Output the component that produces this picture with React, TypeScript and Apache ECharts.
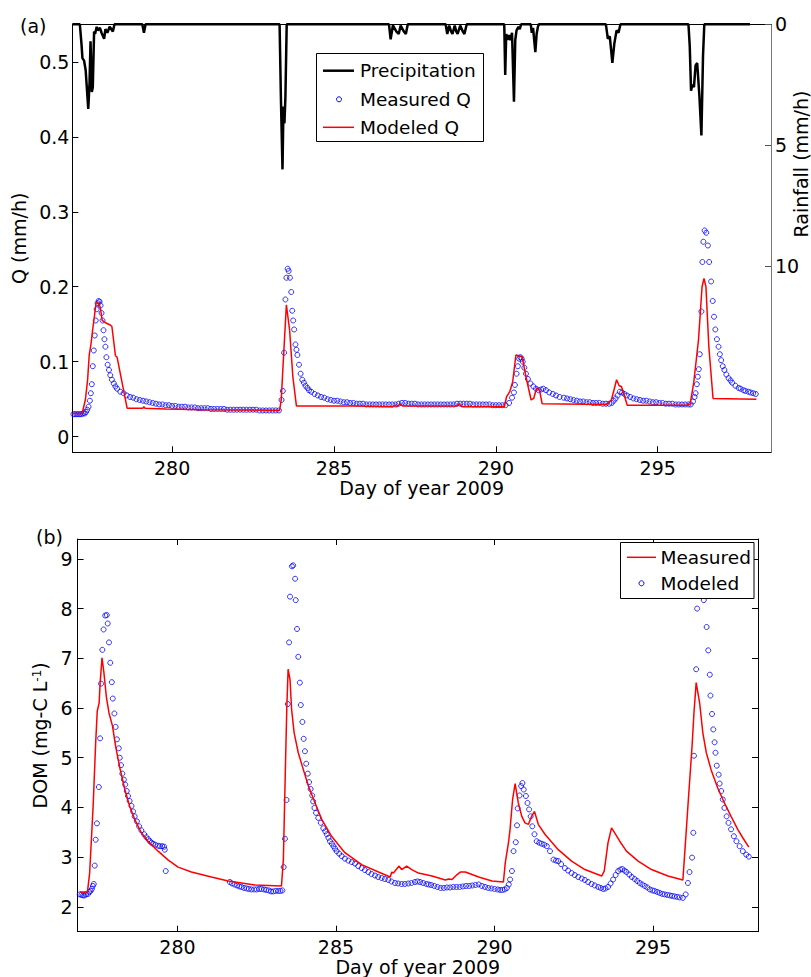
import React, { useEffect, useRef } from "react";
import * as echarts from "echarts";

// ---------- data (day of year 2009) ----------
const dayTicks = [280, 285, 290, 295];
const qTicks = [0, 0.1, 0.2, 0.3, 0.4, 0.5];
const rainTicks = [0, 5, 10];
const domTicks = [2, 3, 4, 5, 6, 7, 8, 9];

// Precipitation (mm/h)
const precipitation: [number, number][] = [
  [276.92, 0], [277.15, 0], [277.2, 0.8], [277.23, 1.4], [277.28, 1.5], [277.33, 1.9], [277.41, 3.5],
  [277.45, 2.4], [277.48, 0.7], [277.52, 2.8], [277.55, 2.6], [277.59, 0.3], [277.62, 0.4], [277.67, 0.1],
  [277.7, 0.25], [277.77, 0.15], [277.82, 0.35], [277.9, 0.6], [277.94, 0.2], [278.0, 0.35], [278.07, 0.1],
  [278.17, 0.3], [278.22, 0], [279.08, 0], [279.13, 0.35], [279.18, 0],
  [283.32, 0], [283.36, 3.0], [283.41, 6.0], [283.44, 3.4], [283.47, 4.1], [283.5, 3.0], [283.54, 0],
  [286.7, 0], [286.75, 0.62], [286.82, 0.05], [286.93, 0.3], [287.0, 0.4], [287.06, 0.05], [287.16, 0.3],
  [287.22, 0.4], [287.28, 0],
  [288.45, 0], [288.5, 0.4], [288.56, 0.05], [288.62, 0.3], [288.66, 0.4], [288.73, 0.05], [288.78, 0.3],
  [288.82, 0.4], [288.9, 0.05], [288.98, 0.3], [289.03, 0.4], [289.1, 0],
  [290.26, 0], [290.29, 2.1], [290.32, 0.4], [290.36, 0.65], [290.4, 0.45], [290.45, 0.65], [290.5, 0.35],
  [290.56, 3.2], [290.6, 0.65], [290.64, 0.25], [290.7, 0.1], [290.74, 0.2], [290.78, 0],
  [291.08, 0], [291.11, 0.35], [291.15, 0.15], [291.22, 1.15], [291.26, 0.4], [291.3, 0.1], [291.33, 0],
  [293.4, 0], [293.46, 0.6], [293.52, 0.5], [293.6, 1.6], [293.66, 0.8], [293.73, 0.25], [293.79, 0.35], [293.85, 0],
  [295.95, 0], [295.99, 0.9], [296.03, 2.75], [296.07, 2.5], [296.12, 2.6], [296.17, 1.7], [296.22, 1.6],
  [296.29, 3.0], [296.35, 4.6], [296.4, 1.3], [296.44, 0], [297.85, 0],
];

// Measured Q (mm/h), circles
const measuredQ: [number, number][] = [
  [276.95, 0.030], [277.0, 0.030], [277.05, 0.030], [277.1, 0.030], [277.15, 0.030], [277.2, 0.030],
  [277.25, 0.031], [277.3, 0.031], [277.34, 0.033], [277.38, 0.036], [277.42, 0.040], [277.46, 0.048],
  [277.49, 0.058], [277.52, 0.070], [277.55, 0.094], [277.58, 0.115], [277.61, 0.135], [277.64, 0.155],
  [277.67, 0.170], [277.70, 0.178], [277.73, 0.181], [277.76, 0.180], [277.79, 0.175], [277.82, 0.165],
  [277.85, 0.155], [277.88, 0.142], [277.91, 0.130], [277.94, 0.120], [277.97, 0.106], [278.01, 0.096],
  [278.05, 0.089], [278.09, 0.082], [278.14, 0.076], [278.2, 0.071], [278.25, 0.067], [278.3, 0.064],
  [278.4, 0.060], [278.5, 0.058], [278.6, 0.055], [278.7, 0.053], [278.8, 0.052], [278.9, 0.050],
  [279.0, 0.049], [279.1, 0.048], [279.2, 0.047], [279.3, 0.046], [279.4, 0.045], [279.5, 0.044],
  [279.6, 0.043], [279.7, 0.043], [279.8, 0.042], [279.9, 0.042], [280.0, 0.041], [280.1, 0.041],
  [280.2, 0.040], [280.3, 0.040], [280.4, 0.040], [280.5, 0.039], [280.6, 0.039], [280.7, 0.039],
  [280.8, 0.038], [280.9, 0.038], [281.0, 0.038], [281.1, 0.038], [281.2, 0.037], [281.3, 0.037],
  [281.4, 0.037], [281.5, 0.037], [281.6, 0.037], [281.7, 0.036], [281.8, 0.036], [281.9, 0.036],
  [282.0, 0.036], [282.1, 0.036], [282.2, 0.036], [282.3, 0.036], [282.4, 0.036], [282.5, 0.036],
  [282.6, 0.036], [282.7, 0.035], [282.8, 0.035], [282.9, 0.035], [283.0, 0.035], [283.1, 0.035],
  [283.2, 0.035], [283.3, 0.035], [283.38, 0.049], [283.42, 0.061], [283.46, 0.112], [283.50, 0.183],
  [283.53, 0.212], [283.57, 0.224], [283.60, 0.221], [283.64, 0.212], [283.68, 0.193], [283.71, 0.168],
  [283.74, 0.155], [283.77, 0.143], [283.81, 0.123], [283.84, 0.116], [283.87, 0.109], [283.92, 0.096],
  [283.97, 0.084], [284.02, 0.076], [284.07, 0.072], [284.12, 0.068], [284.18, 0.065], [284.23, 0.062],
  [284.3, 0.060], [284.4, 0.057], [284.5, 0.055], [284.6, 0.053], [284.7, 0.052], [284.8, 0.050],
  [284.9, 0.049], [285.0, 0.048], [285.1, 0.048], [285.2, 0.047], [285.3, 0.046], [285.4, 0.046],
  [285.5, 0.045], [285.6, 0.045], [285.7, 0.044], [285.8, 0.044], [285.9, 0.044], [286.0, 0.043],
  [286.1, 0.043], [286.2, 0.043], [286.3, 0.043], [286.4, 0.043], [286.5, 0.043], [286.6, 0.043],
  [286.7, 0.043], [286.8, 0.043], [286.9, 0.043], [287.0, 0.044], [287.1, 0.045], [287.2, 0.045],
  [287.3, 0.044], [287.4, 0.044], [287.5, 0.044], [287.6, 0.043], [287.7, 0.043], [287.8, 0.043],
  [287.9, 0.043], [288.0, 0.043], [288.1, 0.043], [288.2, 0.043], [288.3, 0.043], [288.4, 0.043],
  [288.5, 0.043], [288.6, 0.043], [288.7, 0.043], [288.8, 0.044], [288.9, 0.044], [289.0, 0.044],
  [289.1, 0.044], [289.2, 0.044], [289.3, 0.043], [289.4, 0.043], [289.5, 0.043], [289.6, 0.043],
  [289.7, 0.043], [289.8, 0.043], [289.9, 0.042], [290.0, 0.042], [290.1, 0.042], [290.2, 0.042],
  [290.3, 0.042], [290.41, 0.045], [290.5, 0.052], [290.56, 0.059], [290.59, 0.069], [290.64, 0.084],
  [290.68, 0.094], [290.72, 0.104], [290.76, 0.106], [290.8, 0.104], [290.83, 0.100], [290.88, 0.092],
  [290.93, 0.084], [290.99, 0.077], [291.07, 0.071], [291.16, 0.067], [291.24, 0.064], [291.32, 0.062],
  [291.4, 0.063], [291.47, 0.064], [291.55, 0.062], [291.65, 0.059], [291.76, 0.057], [291.86, 0.055],
  [291.97, 0.053], [292.1, 0.052], [292.2, 0.051], [292.3, 0.050], [292.4, 0.049], [292.5, 0.048],
  [292.6, 0.047], [292.7, 0.047], [292.8, 0.046], [292.9, 0.046], [293.0, 0.045], [293.1, 0.045],
  [293.2, 0.045], [293.3, 0.044], [293.4, 0.044], [293.5, 0.044], [293.58, 0.045], [293.64, 0.048],
  [293.7, 0.051], [293.76, 0.055], [293.83, 0.060], [293.9, 0.059], [293.97, 0.057], [294.05, 0.055],
  [294.15, 0.053], [294.25, 0.051], [294.35, 0.050], [294.45, 0.049], [294.55, 0.048], [294.65, 0.048],
  [294.75, 0.047], [294.85, 0.046], [294.95, 0.046], [295.05, 0.045], [295.15, 0.045], [295.25, 0.044],
  [295.35, 0.044], [295.45, 0.044], [295.55, 0.043], [295.65, 0.043], [295.75, 0.043], [295.85, 0.043],
  [295.95, 0.043], [296.02, 0.043], [296.09, 0.047], [296.14, 0.053], [296.17, 0.058], [296.21, 0.070],
  [296.24, 0.080], [296.27, 0.090], [296.3, 0.110], [296.35, 0.167], [296.38, 0.233], [296.41, 0.260],
  [296.45, 0.275], [296.5, 0.272], [296.55, 0.255], [296.59, 0.233], [296.65, 0.207], [296.7, 0.181],
  [296.74, 0.160], [296.78, 0.143], [296.83, 0.130], [296.88, 0.120], [296.92, 0.110], [296.96, 0.102],
  [297.01, 0.094], [297.06, 0.089], [297.12, 0.083], [297.19, 0.078], [297.25, 0.075], [297.3, 0.072],
  [297.4, 0.068], [297.5, 0.065], [297.56, 0.064], [297.65, 0.062], [297.71, 0.061], [297.8, 0.060],
  [297.87, 0.059], [297.95, 0.058], [298.03, 0.057],
];

// Modeled Q (mm/h), line
const modeledQ: [number, number][] = [
  [276.92, 0.031], [277.22, 0.031], [277.32, 0.049], [277.39, 0.076], [277.44, 0.109], [277.49, 0.122],
  [277.55, 0.144], [277.61, 0.164], [277.65, 0.178], [277.71, 0.179], [277.78, 0.173], [277.84, 0.155],
  [277.94, 0.152], [278.09, 0.149], [278.14, 0.147], [278.25, 0.108], [278.30, 0.106], [278.61, 0.038],
  [279.1, 0.038], [279.13, 0.040], [279.16, 0.038], [279.8, 0.037], [281.0, 0.036], [282.5, 0.0355],
  [283.32, 0.035], [283.37, 0.049], [283.45, 0.113], [283.53, 0.176], [283.63, 0.142], [283.73, 0.080],
  [283.84, 0.041], [285.7, 0.041], [286.8, 0.040], [286.9, 0.042], [286.95, 0.040], [287.05, 0.044],
  [287.12, 0.041], [287.6, 0.041], [288.8, 0.041], [288.86, 0.044], [288.95, 0.040], [290.26, 0.040],
  [290.33, 0.053], [290.43, 0.060], [290.52, 0.073], [290.62, 0.109], [290.72, 0.108], [290.81, 0.107],
  [290.93, 0.080], [291.09, 0.049], [291.17, 0.051], [291.26, 0.065], [291.35, 0.062], [291.43, 0.044],
  [293.42, 0.043], [293.57, 0.049], [293.73, 0.076], [293.81, 0.068], [293.88, 0.067], [294.06, 0.042],
  [295.9, 0.042], [296.0, 0.043], [296.11, 0.071], [296.26, 0.129], [296.37, 0.200], [296.43, 0.211],
  [296.49, 0.200], [296.58, 0.120], [296.71, 0.051], [298.05, 0.050],
];

// DOM measured (mg-C/L), red line
const measuredDOM: [number, number][] = [
  [276.92, 2.3], [277.16, 2.3], [277.23, 2.68], [277.34, 4.03], [277.42, 5.3], [277.47, 5.94], [277.53, 6.1],
  [277.56, 6.5], [277.62, 7.01], [277.68, 6.71], [277.76, 6.21], [277.84, 5.9], [277.95, 5.64], [278.05, 5.23],
  [278.18, 4.8], [278.34, 4.36], [278.49, 4.03], [278.65, 3.76], [278.86, 3.49], [279.07, 3.32], [279.39, 3.12],
  [279.71, 2.94], [280.02, 2.8], [280.44, 2.7], [281.07, 2.6], [281.6, 2.52], [282.44, 2.44], [283.28, 2.42],
  [283.34, 2.95], [283.41, 4.96], [283.45, 6.04], [283.49, 6.78], [283.55, 6.57], [283.6, 5.97], [283.68, 5.5],
  [283.81, 5.1], [283.97, 4.76], [284.13, 4.43], [284.34, 4.09], [284.55, 3.76], [284.86, 3.42], [285.28, 3.09],
  [285.81, 2.85], [286.34, 2.7], [286.71, 2.6], [286.76, 2.7], [286.81, 2.68], [286.99, 2.82], [287.07, 2.75],
  [287.23, 2.82], [287.39, 2.75], [287.6, 2.68], [288.03, 2.62], [288.45, 2.54], [288.55, 2.56], [288.66, 2.55],
  [288.82, 2.65], [288.92, 2.7], [289.08, 2.7], [289.5, 2.6], [289.92, 2.52], [290.28, 2.5], [290.34, 2.89],
  [290.44, 3.29], [290.49, 3.56], [290.57, 4.16], [290.65, 4.48], [290.75, 4.09], [290.86, 3.82], [290.96, 3.69],
  [291.07, 3.66], [291.17, 3.82], [291.26, 3.92], [291.38, 3.66], [291.59, 3.46], [292.01, 3.15], [292.43, 2.92],
  [292.85, 2.75], [293.38, 2.62], [293.46, 2.72], [293.58, 3.29], [293.69, 3.59], [293.79, 3.49], [293.95, 3.32],
  [294.16, 3.12], [294.53, 2.92], [294.95, 2.75], [295.47, 2.62], [295.94, 2.54], [296.0, 3.09], [296.1, 4.03],
  [296.23, 5.23], [296.29, 5.9], [296.36, 6.51], [296.47, 6.1], [296.57, 5.5], [296.68, 5.1], [296.83, 4.76],
  [297.04, 4.39], [297.25, 4.09], [297.46, 3.82], [297.67, 3.56], [297.83, 3.39], [298.02, 3.2],
];

// DOM modeled (mg-C/L), circles
const modeledDOM: [number, number][] = [
  [276.92, 2.25], [276.97, 2.24], [277.02, 2.23], [277.07, 2.23], [277.12, 2.25], [277.18, 2.26], [277.22, 2.3],
  [277.26, 2.32], [277.3, 2.36], [277.33, 2.42], [277.36, 2.46], [277.39, 2.83], [277.42, 3.35], [277.46, 3.68],
  [277.52, 4.41], [277.56, 5.39], [277.59, 6.49], [277.63, 7.17], [277.67, 7.58], [277.72, 7.86], [277.77, 7.87],
  [277.8, 7.7], [277.84, 7.32], [277.88, 6.91], [277.93, 6.52], [277.96, 6.19], [278.01, 5.89], [278.05, 5.62],
  [278.09, 5.37], [278.15, 5.19], [278.18, 5.0], [278.22, 4.85], [278.26, 4.68], [278.31, 4.56], [278.35, 4.46],
  [278.4, 4.33], [278.44, 4.23], [278.49, 4.13], [278.55, 4.03], [278.6, 3.92], [278.65, 3.82], [278.72, 3.72],
  [278.79, 3.62], [278.86, 3.54], [278.95, 3.46], [279.02, 3.4], [279.08, 3.36], [279.13, 3.32], [279.18, 3.29],
  [279.23, 3.27], [279.3, 3.25], [279.39, 3.23], [279.45, 3.22], [279.52, 3.22], [279.58, 3.21], [279.6, 3.15],
  [279.63, 2.72],
  [281.65, 2.5], [281.72, 2.47], [281.8, 2.45], [281.88, 2.43], [281.95, 2.41], [282.02, 2.4], [282.1, 2.38],
  [282.18, 2.37], [282.25, 2.36], [282.33, 2.35], [282.42, 2.35], [282.5, 2.35], [282.58, 2.36], [282.65, 2.36],
  [282.73, 2.35], [282.8, 2.34], [282.88, 2.33], [282.95, 2.31], [283.02, 2.31], [283.1, 2.32], [283.18, 2.32],
  [283.25, 2.32], [283.31, 2.33], [283.35, 2.8], [283.39, 3.37], [283.44, 4.15], [283.48, 6.08], [283.52, 7.32],
  [283.55, 8.24], [283.61, 8.85], [283.65, 8.87], [283.71, 8.6], [283.73, 8.17], [283.77, 7.59], [283.81, 7.03],
  [283.86, 6.51], [283.89, 6.06], [283.94, 5.72], [283.98, 5.38], [284.02, 5.13], [284.06, 4.88], [284.11, 4.68],
  [284.15, 4.51], [284.2, 4.37], [284.25, 4.24], [284.28, 4.12], [284.32, 3.99], [284.37, 3.89], [284.44, 3.79],
  [284.52, 3.69], [284.6, 3.58], [284.66, 3.52], [284.71, 3.46], [284.76, 3.39], [284.81, 3.32], [284.87, 3.27],
  [284.92, 3.22], [284.97, 3.17], [285.02, 3.12], [285.1, 3.07], [285.18, 3.02], [285.28, 2.97], [285.39, 2.93],
  [285.5, 2.9], [285.6, 2.87], [285.7, 2.82], [285.81, 2.78], [285.91, 2.74], [286.02, 2.7], [286.12, 2.66],
  [286.23, 2.63], [286.33, 2.6], [286.44, 2.58], [286.54, 2.56], [286.65, 2.54], [286.75, 2.51], [286.86, 2.48],
  [286.96, 2.47], [287.07, 2.46], [287.17, 2.46], [287.28, 2.47], [287.38, 2.48], [287.49, 2.5], [287.57, 2.51],
  [287.65, 2.5], [287.75, 2.48], [287.85, 2.46], [287.92, 2.45], [288.0, 2.44], [288.1, 2.42], [288.2, 2.4],
  [288.3, 2.38], [288.4, 2.38], [288.5, 2.39], [288.6, 2.39], [288.7, 2.4], [288.8, 2.4], [288.9, 2.4],
  [289.0, 2.41], [289.1, 2.42], [289.2, 2.42], [289.3, 2.43], [289.4, 2.44], [289.5, 2.45], [289.6, 2.42],
  [289.7, 2.4], [289.8, 2.38], [289.9, 2.37], [290.0, 2.36], [290.1, 2.35], [290.18, 2.34], [290.25, 2.34],
  [290.32, 2.35], [290.39, 2.38], [290.45, 2.45], [290.49, 2.55], [290.55, 2.72], [290.6, 3.12], [290.67, 3.3],
  [290.71, 3.64], [290.73, 3.98], [290.79, 4.24], [290.84, 4.43], [290.88, 4.49], [290.92, 4.36], [290.99, 4.23],
  [291.04, 4.09], [291.09, 3.96], [291.14, 3.82], [291.19, 3.62], [291.26, 3.46], [291.33, 3.32], [291.41, 3.29],
  [291.49, 3.27], [291.57, 3.25], [291.65, 3.22], [291.75, 3.12], [291.86, 2.95], [291.94, 2.93], [292.01, 2.92],
  [292.1, 2.86], [292.22, 2.78], [292.32, 2.73], [292.43, 2.68], [292.53, 2.64], [292.64, 2.6], [292.75, 2.57],
  [292.85, 2.54], [292.95, 2.5], [293.06, 2.46], [293.16, 2.43], [293.27, 2.4], [293.35, 2.38], [293.43, 2.36],
  [293.5, 2.37], [293.58, 2.4], [293.66, 2.47], [293.74, 2.55], [293.82, 2.64], [293.9, 2.72], [293.97, 2.75],
  [294.03, 2.76], [294.1, 2.73], [294.16, 2.7], [294.25, 2.65], [294.33, 2.6], [294.42, 2.56], [294.5, 2.52],
  [294.58, 2.48], [294.66, 2.45], [294.74, 2.42], [294.82, 2.39], [294.9, 2.35], [294.98, 2.33], [295.05, 2.32],
  [295.13, 2.3], [295.21, 2.28], [295.29, 2.26], [295.37, 2.25], [295.45, 2.24], [295.53, 2.23], [295.6, 2.22],
  [295.68, 2.21], [295.76, 2.2], [295.84, 2.19], [295.94, 2.18], [296.03, 2.25], [296.1, 2.48], [296.15, 2.7],
  [296.23, 2.99], [296.27, 3.49], [296.29, 5.04], [296.36, 6.78], [296.39, 8.0], [296.45, 8.9], [296.5, 9.2],
  [296.55, 9.0], [296.6, 8.17], [296.69, 7.63], [296.74, 7.16], [296.79, 6.67], [296.81, 6.25], [296.86, 5.88],
  [296.9, 5.57], [296.94, 5.31], [296.97, 5.1], [297.01, 4.84], [297.07, 4.66], [297.1, 4.48], [297.15, 4.33],
  [297.2, 4.16], [297.25, 3.99], [297.32, 3.82], [297.38, 3.69], [297.46, 3.56], [297.55, 3.42], [297.63, 3.32],
  [297.73, 3.22], [297.83, 3.12], [297.94, 3.05], [298.02, 3.01],
];

// ---------- styling ----------
const FONT = '"DejaVu Sans", sans-serif';
const BLUE = "#0000ff";
const RED = "#ff0000";

const txt = (size: number) => ({ fontFamily: FONT, fontSize: size, color: "#000" });

function xAxes(grid: number, min: number, max: number, withLabels: boolean, pos: "bottom" | "top", tickShow: boolean) {
  return {
    type: "value",
    gridIndex: grid,
    position: pos,
    min,
    max,
    name: withLabels ? "Day of year 2009" : "",
    nameLocation: "middle",
    nameGap: 25,
    nameTextStyle: txt(19),
    axisLine: { show: true, onZero: false, lineStyle: { color: "#000", width: 1 } },
    axisTick: { show: tickShow, inside: true, length: 6, customValues: dayTicks, lineStyle: { color: "#000" } },
    axisLabel: { show: withLabels, margin: 6, customValues: dayTicks, ...txt(19) },
    splitLine: { show: false },
  };
}

export default function App() {
  const ref = useRef<HTMLDivElement>(null);
  useEffect(() => {
    if (!ref.current) return;
    const chart = echarts.init(ref.current, null, { renderer: "svg" });

    const option: any = {
      animation: false,
      backgroundColor: "#fff",
      grid: [
        { left: 72.4, top: 24.3, width: 698.6, height: 428, containLabel: false, outerBoundsMode: "none" },
        { left: 77.6, top: 539, width: 680.4, height: 392.7, containLabel: false, outerBoundsMode: "none" },
      ],
      xAxis: [
        xAxes(0, 276.92, 298.5, true, "bottom", true),
        xAxes(0, 276.92, 298.5, false, "top", false),
        xAxes(1, 276.85, 298.31, true, "bottom", true),
        xAxes(1, 276.85, 298.31, false, "top", true),
      ],
      yAxis: [
        {
          type: "value",
          gridIndex: 0,
          position: "left",
          min: -0.0208,
          max: 0.55,
          name: "Q (mm/h)",
          nameLocation: "middle",
          nameGap: 36,
          nameTextStyle: txt(19),
          axisLine: { show: true, onZero: false, lineStyle: { color: "#000" } },
          axisTick: { show: true, inside: true, length: 6, customValues: qTicks, lineStyle: { color: "#000" } },
          axisLabel: { show: true, margin: 3, customValues: qTicks, ...txt(19) },
          splitLine: { show: false },
        },
        {
          type: "value",
          gridIndex: 0,
          position: "right",
          inverse: true,
          min: 0,
          max: 17.7,
          axisLine: { show: true, onZero: false, lineStyle: { color: "#777" } },
          axisTick: { show: true, inside: true, length: 6, customValues: rainTicks, lineStyle: { color: "#555" } },
          axisLabel: { show: true, margin: 4, customValues: rainTicks, ...txt(19) },
          splitLine: { show: false },
        },
        {
          type: "value",
          gridIndex: 1,
          position: "left",
          min: 1.5,
          max: 9.4,
          name: "DOM (mg-C L{sup|-1})",
          nameLocation: "middle",
          nameGap: 22,
          nameTextStyle: {
            ...txt(19),
            rich: { sup: { fontFamily: FONT, fontSize: 12, color: "#000", verticalAlign: "top" } },
          },
          axisLine: { show: true, onZero: false, lineStyle: { color: "#000" } },
          axisTick: { show: true, inside: true, length: 6, customValues: domTicks, lineStyle: { color: "#000" } },
          axisLabel: { show: true, margin: 5, customValues: domTicks, ...txt(19) },
          splitLine: { show: false },
        },
        {
          type: "value",
          gridIndex: 1,
          position: "right",
          min: 1.5,
          max: 9.4,
          axisLine: { show: true, onZero: false, lineStyle: { color: "#000" } },
          axisTick: { show: true, inside: true, length: 6, customValues: domTicks, lineStyle: { color: "#000" } },
          axisLabel: { show: false },
          splitLine: { show: false },
        },
      ],
      series: [
        {
          name: "Precipitation",
          type: "line",
          xAxisIndex: 0,
          yAxisIndex: 1,
          data: precipitation,
          symbol: "none",
          clip: false,
          lineStyle: { color: "#000", width: 2.5 },
          z: 3,
        },
        {
          name: "Measured Q",
          type: "scatter",
          xAxisIndex: 0,
          yAxisIndex: 0,
          data: measuredQ,
          symbol: "circle",
          symbolSize: 5,
          itemStyle: { color: "rgba(0,0,0,0)", borderColor: BLUE, borderWidth: 1 },
          z: 2,
        },
        {
          name: "Modeled Q",
          type: "line",
          xAxisIndex: 0,
          yAxisIndex: 0,
          data: modeledQ,
          symbol: "none",
          lineStyle: { color: RED, width: 1.5 },
          z: 4,
        },
        {
          name: "Measured",
          type: "line",
          xAxisIndex: 2,
          yAxisIndex: 2,
          data: measuredDOM,
          symbol: "none",
          lineStyle: { color: RED, width: 1.5 },
          z: 4,
        },
        {
          name: "Modeled",
          type: "scatter",
          xAxisIndex: 2,
          yAxisIndex: 2,
          data: modeledDOM,
          symbol: "circle",
          symbolSize: 5,
          itemStyle: { color: "rgba(0,0,0,0)", borderColor: BLUE, borderWidth: 1 },
          z: 2,
        },
      ],
      graphic: [
        // panel labels
        { type: "text", x: 20, y: 25.5, z: 100, style: { text: "(a)", font: `19px ${FONT}`, fill: "#000", verticalAlign: "middle" } },
        { type: "text", x: 36, y: 536.5, z: 100, style: { text: "(b)", font: `19px ${FONT}`, fill: "#000", verticalAlign: "middle" } },
        // right axis name
        {
          type: "text", x: 801, y: 164, rotation: Math.PI / 2, z: 100,
          style: { text: "Rainfall (mm/h)", font: `19px ${FONT}`, fill: "#000", align: "center", verticalAlign: "middle" },
        },
        // legend (a)
        { type: "rect", z: 100, shape: { x: 316.5, y: 53.5, width: 167, height: 88 }, style: { fill: "#fff", stroke: "#000", lineWidth: 1 } },
        { type: "line", z: 101, shape: { x1: 323, y1: 70.7, x2: 354, y2: 70.7 }, style: { stroke: "#000", lineWidth: 2.5 } },
        { type: "text", z: 101, x: 360, y: 70.7, style: { text: "Precipitation", font: `18.5px ${FONT}`, fill: "#000", verticalAlign: "middle" } },
        { type: "circle", z: 101, shape: { cx: 339, cy: 99.3, r: 2.5 }, style: { fill: "none", stroke: BLUE, lineWidth: 1 } },
        { type: "text", z: 101, x: 360, y: 99.3, style: { text: "Measured Q", font: `18.5px ${FONT}`, fill: "#000", verticalAlign: "middle" } },
        { type: "line", z: 101, shape: { x1: 323, y1: 127.3, x2: 354, y2: 127.3 }, style: { stroke: RED, lineWidth: 1.5 } },
        { type: "text", z: 101, x: 360, y: 127.3, style: { text: "Modeled Q", font: `18.5px ${FONT}`, fill: "#000", verticalAlign: "middle" } },
        // legend (b)
        { type: "rect", z: 100, shape: { x: 620.5, y: 542.5, width: 133.5, height: 56 }, style: { fill: "#fff", stroke: "#000", lineWidth: 1 } },
        { type: "line", z: 101, shape: { x1: 627, y1: 557.3, x2: 656, y2: 557.3 }, style: { stroke: RED, lineWidth: 1.5 } },
        { type: "text", z: 101, x: 660.5, y: 557.3, style: { text: "Measured", font: `18.5px ${FONT}`, fill: "#000", verticalAlign: "middle" } },
        { type: "circle", z: 101, shape: { cx: 641.5, cy: 583.3, r: 2.5 }, style: { fill: "none", stroke: BLUE, lineWidth: 1 } },
        { type: "text", z: 101, x: 660.5, y: 583.3, style: { text: "Modeled", font: `18.5px ${FONT}`, fill: "#000", verticalAlign: "middle" } },
      ],
    };

    chart.setOption(option);
    return () => chart.dispose();
  }, []);

  return (
    <div
      ref={ref}
      style={{ position: "absolute", left: 0, top: 0, width: 811, height: 977, background: "#fff" }}
    />
  );
}
